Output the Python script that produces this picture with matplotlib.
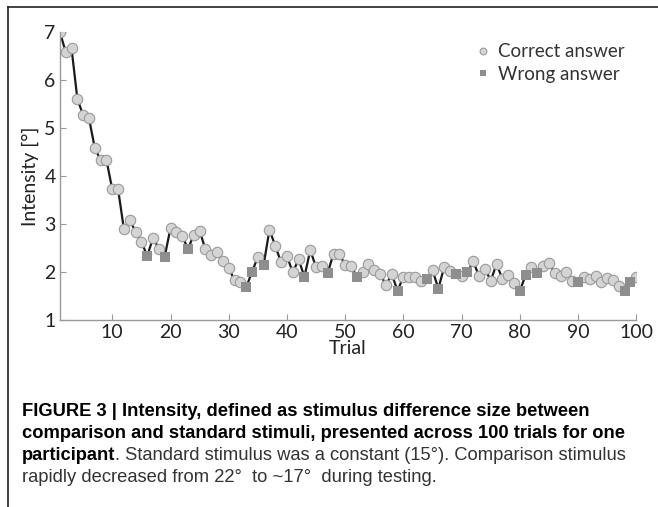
import numpy as np
import matplotlib
matplotlib.use("Agg")
import matplotlib.pyplot as plt
from matplotlib.lines import Line2D

trials = np.arange(1, 101)
intensity = [7.0, 6.58, 6.66, 5.61, 5.26, 5.2, 4.58, 4.33, 4.33, 3.72,
             3.72, 2.89, 3.09, 2.83, 2.63, 2.33, 2.71, 2.48, 2.32, 2.91,
             2.83, 2.75, 2.48, 2.77, 2.86, 2.47, 2.35, 2.41, 2.22, 2.08,
             1.83, 1.80, 1.68, 2.0, 2.31, 2.15, 2.88, 2.54, 2.2, 2.33,
             1.99, 2.26, 1.9, 2.45, 2.1, 2.13, 1.98, 2.38, 2.38, 2.14,
             2.13, 1.9, 2.0, 2.17, 2.03, 1.96, 1.73, 1.95, 1.61, 1.9,
             1.9, 1.9, 1.81, 1.85, 2.04, 1.65, 2.1, 2.02, 1.96, 1.92,
             1.99, 2.22, 1.91, 2.07, 1.82, 2.16, 1.86, 1.94, 1.77, 1.6,
             1.94, 2.1, 1.97, 2.13, 2.18, 1.97, 1.92, 1.99, 1.82, 1.8,
             1.9, 1.85, 1.92, 1.8, 1.87, 1.83, 1.7, 1.61, 1.78, 1.9]
wrong_trials = [16, 19, 23, 33, 34, 36, 43, 47, 52, 59, 64, 66, 69, 71,
                80, 81, 83, 90, 98, 99]

intensity = np.array(intensity)
wrong = np.isin(trials, wrong_trials)

plt.rcParams['font.family'] = ['Lato', 'DejaVu Sans']

fig = plt.figure(figsize=(6.58, 5.07), dpi=100)
ax = fig.add_axes([0.091, 0.369, 0.876, 0.568])

ax.plot(trials, intensity, color='#1a1a1a', lw=1.6, zorder=1)
ax.plot(trials[~wrong], intensity[~wrong], 'o', ms=7.5, mfc='#d4d4d4',
        mec='#9a9a9a', mew=0.8, label='Correct answer', zorder=2)
ax.plot(trials[wrong], intensity[wrong], 's', ms=7.5, mfc='#8e8e8e',
        mec='#8e8e8e', mew=0, label='Wrong answer', zorder=2)

ax.set_xlim(1, 100)
ax.set_ylim(1, 7)
ax.set_xticks(np.arange(10, 101, 10))
ax.set_yticks(np.arange(1, 8, 1))
for s in ['top', 'right']:
    ax.spines[s].set_visible(False)
for s in ['left', 'bottom']:
    ax.spines[s].set_color('#999999')
    ax.spines[s].set_linewidth(1.0)
ax.tick_params(direction='in', length=4, color='#999999', labelsize=14,
               labelcolor='#222222', pad=3)
ax.set_xlabel('Trial', fontsize=14, color='#222222', labelpad=-1)
ax.set_ylabel('Intensity [°]', fontsize=14, color='#222222', labelpad=4)

leg = ax.legend(loc='upper right', frameon=False, fontsize=13.5,
                handlelength=0.6, handletextpad=0.5, markerscale=0.65,
                labelspacing=0.3, borderaxespad=0.2)
for t in leg.get_texts():
    t.set_color('#333333')

# frame lines at top and left of the picture
fig.lines.append(Line2D([8 / 658, 1], [1 - 7 / 507, 1 - 7 / 507],
                        transform=fig.transFigure, color='#222222', lw=1.2))
fig.lines.append(Line2D([8 / 658, 8 / 658], [0, 1 - 7 / 507],
                        transform=fig.transFigure, color='#222222', lw=1.2))

cap_font = ['Liberation Sans', 'DejaVu Sans']
cap_size = 14
x0 = 22 / 658
lines_y = [1 - 412 / 507, 1 - 434 / 507, 1 - 456 / 507, 1 - 478 / 507]
t1 = fig.text(x0, lines_y[0], 'FIGURE 3 | Intensity, defined as stimulus difference size between',
              fontsize=cap_size, fontweight='bold', family=cap_font, va='center')
t2 = fig.text(x0, lines_y[1], 'comparison and standard stimuli, presented across 100 trials for one',
              fontsize=cap_size, fontweight='bold', family=cap_font, va='center')
bold = fig.text(x0, lines_y[2], 'participant', fontsize=cap_size, fontweight='bold',
                family=cap_font, va='center')
t3 = fig.text(0, lines_y[2], '. Standard stimulus was a constant (15°). Comparison stimulus',
              fontsize=cap_size, family=cap_font, va='center', color='#333333')
t4 = fig.text(x0, lines_y[3], 'rapidly decreased from 22°  to ~17°  during testing.',
              fontsize=cap_size, family=cap_font, va='center', color='#333333')

# shrink caption so the second line spans as in the reference
fig.canvas.draw()
w = t2.get_window_extent().width
size = cap_size * 606 / w
for t in [t1, t2, bold, t3, t4]:
    t.set_fontsize(size)
fig.canvas.draw()
bb = bold.get_window_extent().transformed(fig.transFigure.inverted())
t3.set_x(bb.x1)

fig.savefig('out.png', dpi=100)
